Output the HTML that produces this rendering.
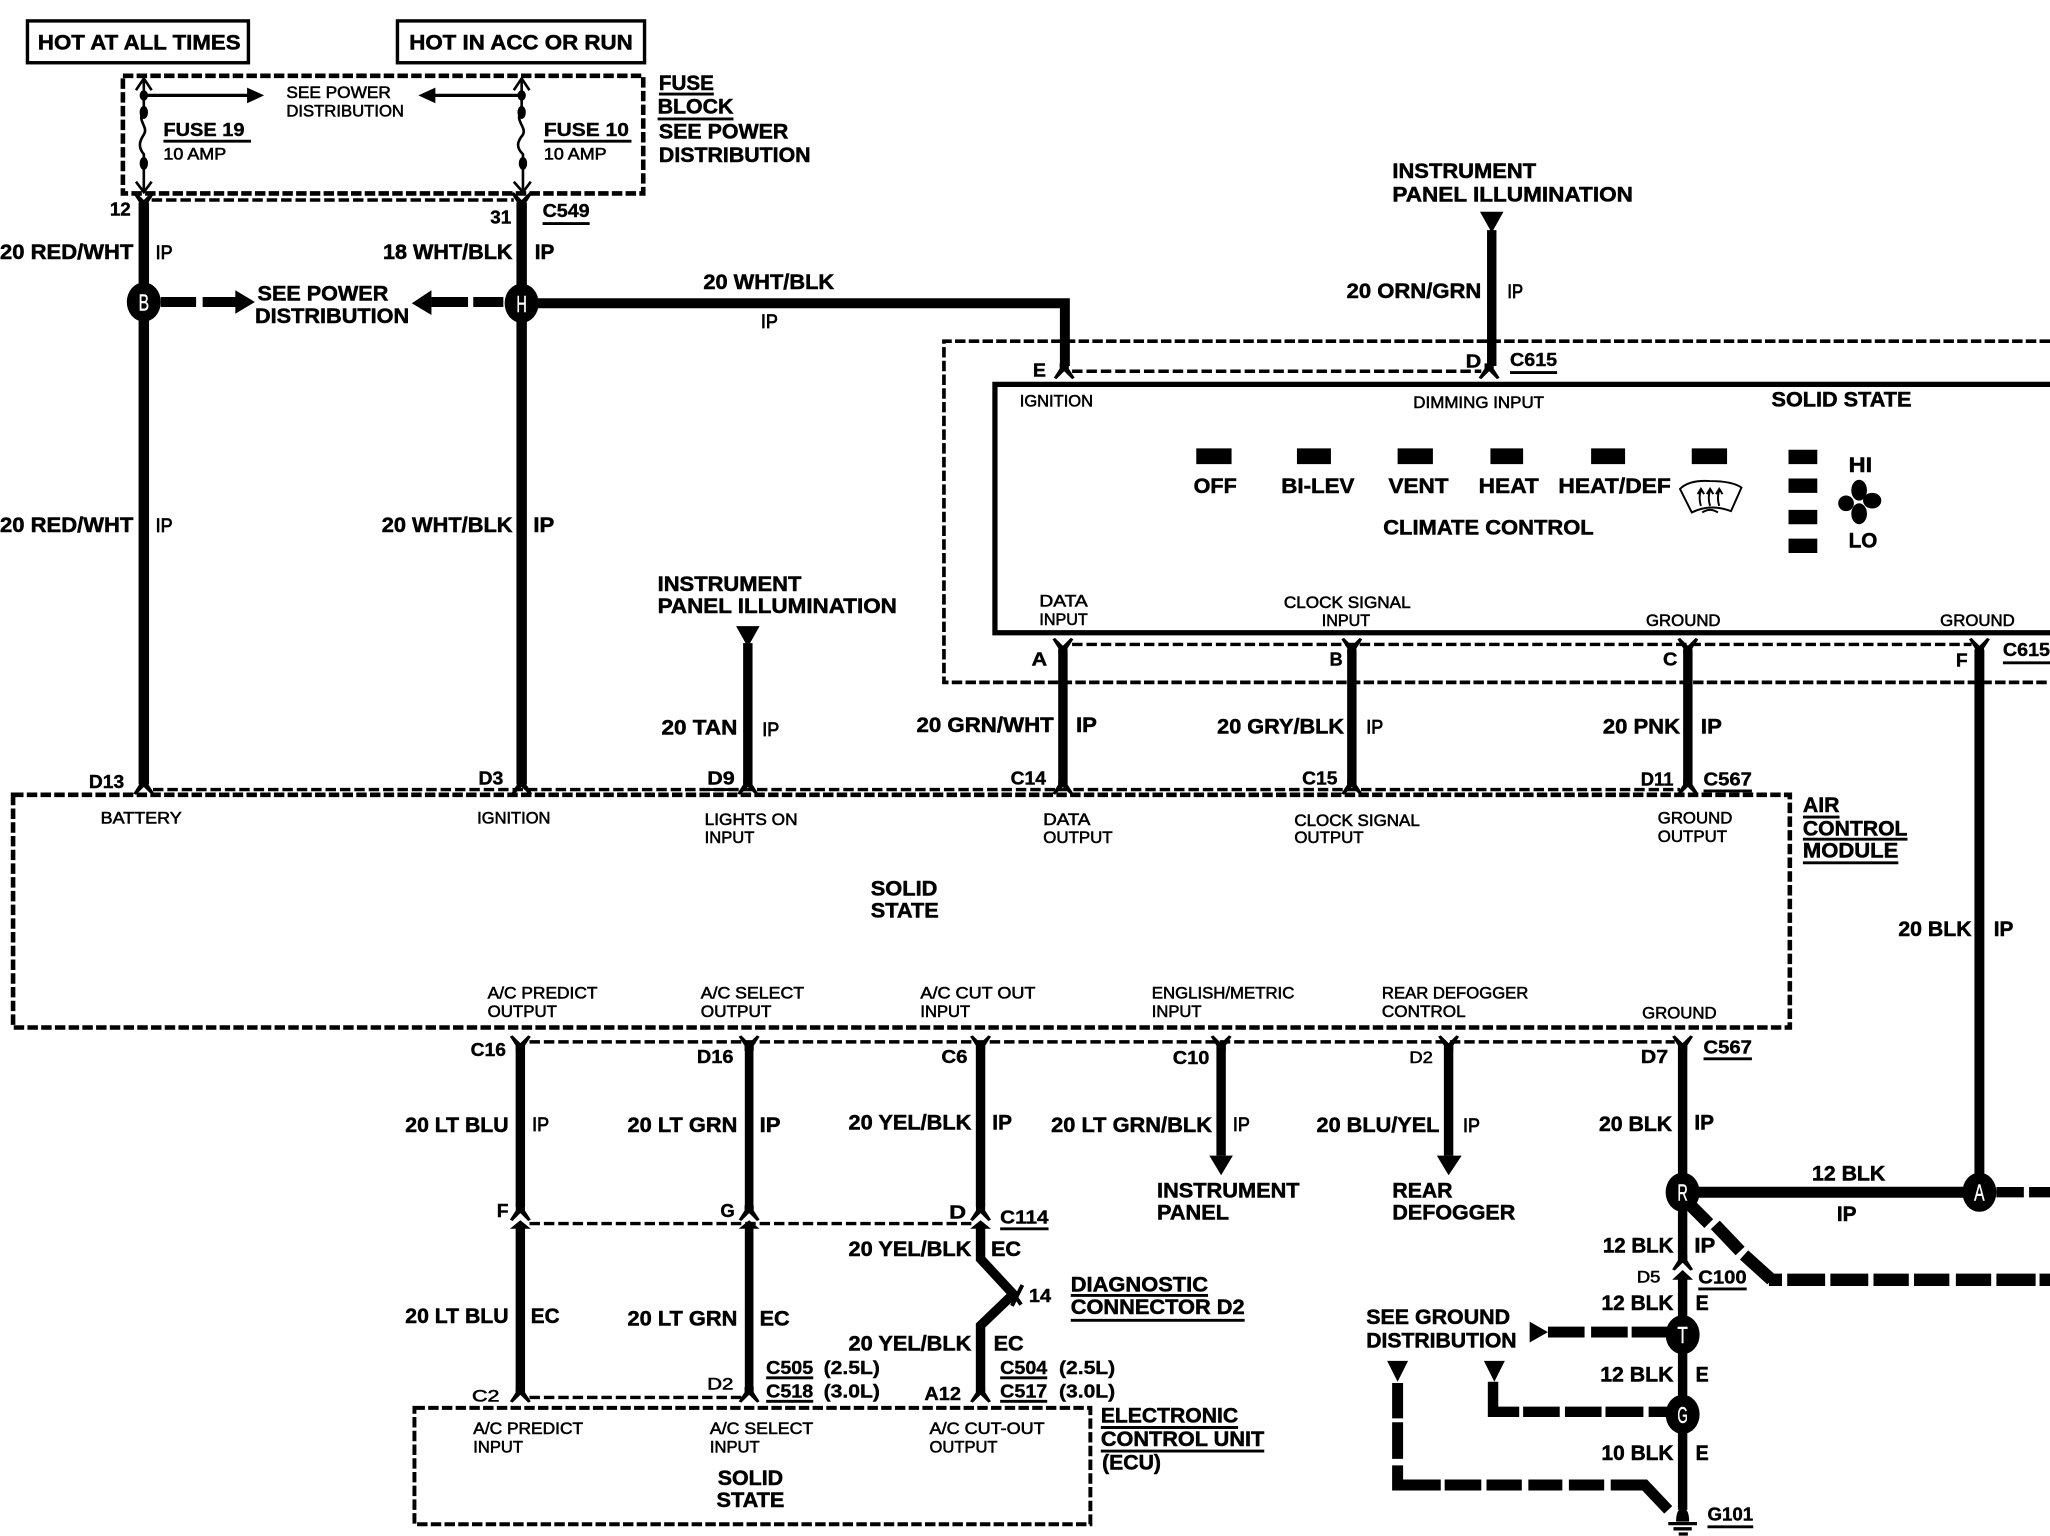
<!DOCTYPE html>
<html><head><meta charset="utf-8"><title>Climate Control Wiring Diagram</title>
<style>
html,body{margin:0;padding:0;background:#fff}
svg{display:block;width:2050px;height:1536px}
text{font-family:"Liberation Sans",sans-serif;fill:#000;stroke:#000}
.b{font-size:16px;font-weight:bold;stroke-width:.4px}
.m{font-size:14px;font-weight:bold;stroke-width:.3px}
.s{font-size:13px;font-weight:normal;stroke-width:.45px}
.i{font-size:15px;font-weight:normal;stroke-width:.6px}
.n{font-size:18px;font-weight:normal;fill:#fff;stroke:#fff;stroke-width:.3px}
.w{fill:none;stroke:#000;stroke-linecap:butt;stroke-linejoin:miter}
</style></head><body>
<svg xmlns="http://www.w3.org/2000/svg" viewBox="0 0 1568 1175" preserveAspectRatio="none">
<defs>
<path id="fy" d="M-8,-7 L-6,-8 L0,-2 L6,-8 L8,-7 L3.5,0 V4 H-3.5 V0 Z"/>
<path id="fa" d="M-8,7 L-6,8 L0,2 L6,8 L8,7 L3.5,0 V-4 H-3.5 V0 Z"/>
</defs>
<rect width="1568" height="1175" fill="#fff"/>

<!-- label boxes -->
<g class="w" stroke-width="2.6"><rect x="21" y="16" width="169" height="32"/><rect x="304" y="16" width="189" height="32"/></g>

<!-- dashed boxes -->
<g class="w" stroke-dasharray="8 2.5">
<rect x="94" y="58" width="398" height="90" stroke-width="3.5"/>
<path d="M1568 261H722V522H1568" stroke-width="2.8"/>
<rect x="10" y="608" width="1359" height="178" stroke-width="3.5"/>
<rect x="317" y="1077" width="517" height="89" stroke-width="3"/>
</g>
<g class="w" stroke-width="2.6" stroke-dasharray="8 3">
<path d="M116 153H393M820 284H1133M820 493H1508M117 604H1285M405 797H1281M405 936H744M405 1069H567"/>
</g>

<!-- solid state box -->
<path class="w" stroke-width="4" d="M1568 294H761V484H1568"/>

<!-- fuse internals -->
<g class="w" stroke-width="2">
<path d="M110 60V72V85C104 92 114 97 110 103C106 109 106 113 110 118V147"/>
<path d="M399 60V72V85C393 92 403 97 400 103C395 109 395 113 400 118V147"/>
<path d="M104 69L110 60L116 69M104 139L110 147L116 139M393 69L399 60L405 69M393 139L400 147L406 139"/>
</g>
<path class="w" stroke-width="2.5" d="M110 73H190M399 73H332"/>
<path d="M189 67L202 73L189 79ZM333 67L320 73L333 79Z"/>
<ellipse cx="110" cy="73" rx="3.2" ry="4"/><ellipse cx="110" cy="86" rx="3.2" ry="5"/><ellipse cx="110" cy="125" rx="3.2" ry="5"/>
<ellipse cx="399" cy="73" rx="3.2" ry="4"/><ellipse cx="399" cy="86" rx="3.2" ry="5"/><ellipse cx="400" cy="125" rx="3.2" ry="5"/>

<!-- main wires -->
<g class="w" stroke-width="8">
<path d="M110 155V600M399 155V600"/>
<path d="M399 232H814.5V280" stroke-width="7.6"/>
</g>
<g class="w" stroke-width="7.2">
<path d="M572 492V600M1287 800V966M1287 976V1155M1141 176V280M813 497V601M1034 497V601M1291 497V601"/>
<path d="M398 800V923M398 939V1065M750 800V923M750 939V963L775 990L750 1014V1065M934 800V884M1108 800V884"/>
<path d="M573 800V923M573 939V1065" stroke-width="6.6"/>
</g>
<path class="w" stroke-width="7.6" d="M1514 497V912"/>
<path class="w" stroke-width="8.4" d="M1287 912H1514"/>
<path class="w" stroke-width="3" d="M782 983L774 999M772 985L781 998"/>

<!-- arrowheads -->
<path d="M1132 162H1150L1141 178ZM563 479H581L572 495ZM925 884H943L934 899ZM1099 884H1118L1108 899Z"/>
<path d="M390 940L398 933.5L406 940ZM565 940L573 933.5L581 940ZM742 940L750 933.5L758 940ZM1279 979L1287 971.5L1295 979Z"/>

<!-- connector forks -->
<g>
<use href="#fy" x="110" y="155"/><use href="#fy" x="399" y="155"/>
<use href="#fa" x="814" y="282"/><use href="#fa" x="1139" y="282"/>
<use href="#fy" x="813" y="496"/><use href="#fy" x="1034" y="496"/><use href="#fy" x="1291" y="496"/><use href="#fy" x="1514" y="496"/>
<use href="#fa" x="110" y="600"/><use href="#fa" x="399" y="600"/><use href="#fa" x="572" y="600"/><use href="#fa" x="813" y="600"/><use href="#fa" x="1034" y="600"/><use href="#fa" x="1291" y="600"/>
<use href="#fy" x="398" y="800"/><use href="#fy" x="573" y="800"/><use href="#fy" x="750" y="800"/><use href="#fy" x="934" y="800"/><use href="#fy" x="1108" y="800"/><use href="#fy" x="1287" y="800"/>
<use href="#fa" x="398" y="926"/><use href="#fa" x="573" y="926"/><use href="#fa" x="750" y="926"/><use href="#fa" x="1287" y="964"/>
<use href="#fa" x="398" y="1065"/><use href="#fa" x="573" y="1065"/><use href="#fa" x="750" y="1065"/>
</g>

<!-- heavy dashed branches -->
<g class="w" stroke-width="8.4">
<path d="M123 231H150M155 231H182M330 231H358M362 231H385" stroke-width="7.6"/>
<path d="M1527 912H1548M1552 912H1568" stroke-width="8"/>
<path d="M1184 1019H1212M1217 1019H1245M1248 1019H1280"/>
<path d="M1142 1057V1080H1162M1165 1080H1193M1197 1080H1225M1228 1080H1257M1261 1080H1276" stroke-width="8"/>
<path d="M1069 1058V1085M1069 1088V1116M1069 1121V1136H1102M1105 1136H1133M1137 1136H1164M1169 1136H1195M1200 1136H1227M1232 1136H1258L1276 1155"/>
<path d="M1294 923L1307 936M1312 937L1331 957M1334 960L1355 979M1353 979H1363M1367 979H1396M1400 979H1429M1433 979H1460M1464 979H1491M1496 979H1523M1527 979H1557M1560 979H1568" stroke-width="9.5"/>
</g>
<path d="M180 222L195 231L180 240ZM330 222L315 232L330 241ZM1170 1011L1184 1019L1170 1027ZM1135 1041H1151L1143 1057ZM1061 1041H1077L1069 1057Z"/>

<!-- nodes -->
<ellipse cx="110" cy="231" rx="13" ry="15"/><ellipse cx="399" cy="232" rx="13" ry="15"/>
<ellipse cx="1287" cy="912" rx="13" ry="15"/><ellipse cx="1514" cy="912" rx="13" ry="15"/>
<ellipse cx="1287" cy="1021" rx="13" ry="15"/><ellipse cx="1287" cy="1082" rx="13" ry="15"/>
<text class="n" x="106" y="237.5" textLength="8" lengthAdjust="spacingAndGlyphs">B</text>
<text class="n" x="395" y="238.5" textLength="8" lengthAdjust="spacingAndGlyphs">H</text>
<text class="n" x="1283" y="918.5" textLength="8" lengthAdjust="spacingAndGlyphs">R</text>
<text class="n" x="1510" y="918.5" textLength="8" lengthAdjust="spacingAndGlyphs">A</text>
<text class="n" x="1283" y="1027.5" textLength="8" lengthAdjust="spacingAndGlyphs">T</text>
<text class="n" x="1283" y="1088.5" textLength="8" lengthAdjust="spacingAndGlyphs">G</text>

<!-- ground -->
<path d="M1282 1164Q1282 1154 1287 1154Q1292 1154 1292 1164Z"/>
<path class="w" stroke-width="2.5" d="M1276 1165.5H1298M1280 1169.5H1294M1284 1173.5H1291"/>

<!-- indicators -->
<path d="M915 343h27v12h-27zM992 343h26v12h-26zM1069 343h27v12h-27zM1140 343h25v12h-25zM1217 343h26v12h-26zM1294 343h27v12h-27zM1368 344h22v11h-22zM1368 366h22v11h-22zM1368 390h22v11h-22zM1368 412h22v11h-22z"/>
<!-- fan -->
<ellipse cx="1422" cy="375" rx="6" ry="8"/><ellipse cx="1422" cy="393" rx="6" ry="8"/><ellipse cx="1412" cy="385" rx="6" ry="6"/><ellipse cx="1432" cy="383" rx="7" ry="6"/>
<!-- defog -->
<g class="w" stroke-width="1.5">
<path d="M1285 374Q1292 367 1308 368Q1325 368 1332 373L1324 391Q1308 385 1294 392Z"/>
<path d="M1301 387Q1299 381 1301 375M1308 387Q1306 381 1308 375M1315 387Q1313 381 1315 375M1298.5 378L1301 374L1303.5 378M1305.5 378L1308 374L1310.5 378M1312.5 378L1315 374L1317.5 378M1302 392Q1308 388 1314 392"/>
</g>

<!-- underlines -->
<path class="w" stroke-width="2.2" d="M125 108H192M416 108H483M504 72H546M503 91H561M415 171H451M1155 285H1191M1532 507H1568M541 604H562M1303 605H1340M1379 625H1407M1379 642H1459M1379 660H1452M1303 810H1340M765 940H802M819 991H924M819 1010H952M586 1054H622M586 1072H622M765 1054H801M765 1072H801M842 1092H947M842 1110H967M1299 986H1336M1306 1168H1341"/>

<!-- text -->
<g>
<text class="b" x="29" y="38" textLength="155" lengthAdjust="spacingAndGlyphs">HOT AT ALL TIMES</text>
<text class="b" x="313" y="38" textLength="171" lengthAdjust="spacingAndGlyphs">HOT IN ACC OR RUN</text>
<text class="s" x="219" y="75" textLength="80" lengthAdjust="spacingAndGlyphs">SEE POWER</text>
<text class="s" x="219" y="89" textLength="90" lengthAdjust="spacingAndGlyphs">DISTRIBUTION</text>
<text class="m" x="125" y="104" textLength="62" lengthAdjust="spacingAndGlyphs">FUSE 19</text>
<text class="s" x="125" y="122" textLength="48" lengthAdjust="spacingAndGlyphs">10 AMP</text>
<text class="m" x="416" y="104" textLength="65" lengthAdjust="spacingAndGlyphs">FUSE 10</text>
<text class="s" x="416" y="122" textLength="48" lengthAdjust="spacingAndGlyphs">10 AMP</text>
<text class="b" x="504" y="69" textLength="42" lengthAdjust="spacingAndGlyphs">FUSE</text>
<text class="b" x="503" y="87" textLength="58" lengthAdjust="spacingAndGlyphs">BLOCK</text>
<text class="b" x="504" y="106" textLength="99" lengthAdjust="spacingAndGlyphs">SEE POWER</text>
<text class="b" x="504" y="124" textLength="116" lengthAdjust="spacingAndGlyphs">DISTRIBUTION</text>
<text class="m" x="84" y="165" textLength="16" lengthAdjust="spacingAndGlyphs">12</text>
<text class="m" x="375" y="171" textLength="16" lengthAdjust="spacingAndGlyphs">31</text>
<text class="m" x="415" y="166" textLength="36" lengthAdjust="spacingAndGlyphs">C549</text>
<text class="b" x="0" y="198" textLength="102" lengthAdjust="spacingAndGlyphs">20 RED/WHT</text>
<text class="i" x="119" y="198" textLength="13" lengthAdjust="spacingAndGlyphs">IP</text>
<text class="b" x="293" y="198" textLength="99" lengthAdjust="spacingAndGlyphs">18 WHT/BLK</text>
<text class="b" x="409" y="198" textLength="15" lengthAdjust="spacingAndGlyphs">IP</text>
<text class="b" x="197" y="230" textLength="100" lengthAdjust="spacingAndGlyphs">SEE POWER</text>
<text class="b" x="195" y="247" textLength="118" lengthAdjust="spacingAndGlyphs">DISTRIBUTION</text>
<text class="b" x="538" y="221" textLength="100" lengthAdjust="spacingAndGlyphs">20 WHT/BLK</text>
<text class="i" x="582" y="251" textLength="13" lengthAdjust="spacingAndGlyphs">IP</text>
<text class="b" x="1065" y="136" textLength="110" lengthAdjust="spacingAndGlyphs">INSTRUMENT</text>
<text class="b" x="1065" y="154" textLength="184" lengthAdjust="spacingAndGlyphs">PANEL ILLUMINATION</text>
<text class="b" x="1030" y="228" textLength="103" lengthAdjust="spacingAndGlyphs">20 ORN/GRN</text>
<text class="i" x="1153" y="228" textLength="12" lengthAdjust="spacingAndGlyphs">IP</text>
<text class="m" x="790" y="288" textLength="10" lengthAdjust="spacingAndGlyphs">E</text>
<text class="m" x="1121" y="281" textLength="12" lengthAdjust="spacingAndGlyphs">D</text>
<text class="m" x="1155" y="280" textLength="36" lengthAdjust="spacingAndGlyphs">C615</text>
<text class="s" x="780" y="311" textLength="56" lengthAdjust="spacingAndGlyphs">IGNITION</text>
<text class="s" x="1081" y="312" textLength="100" lengthAdjust="spacingAndGlyphs">DIMMING INPUT</text>
<text class="b" x="1355" y="311" textLength="107" lengthAdjust="spacingAndGlyphs">SOLID STATE</text>
<text class="b" x="913" y="377" textLength="33" lengthAdjust="spacingAndGlyphs">OFF</text>
<text class="b" x="980" y="377" textLength="56" lengthAdjust="spacingAndGlyphs">BI-LEV</text>
<text class="b" x="1062" y="377" textLength="46" lengthAdjust="spacingAndGlyphs">VENT</text>
<text class="b" x="1131" y="377" textLength="46" lengthAdjust="spacingAndGlyphs">HEAT</text>
<text class="b" x="1192" y="377" textLength="86" lengthAdjust="spacingAndGlyphs">HEAT/DEF</text>
<text class="b" x="1058" y="409" textLength="161" lengthAdjust="spacingAndGlyphs">CLIMATE CONTROL</text>
<text class="b" x="1414" y="361" textLength="18" lengthAdjust="spacingAndGlyphs">HI</text>
<text class="b" x="1414" y="419" textLength="22" lengthAdjust="spacingAndGlyphs">LO</text>
<text class="s" x="795" y="464" textLength="37" lengthAdjust="spacingAndGlyphs">DATA</text>
<text class="s" x="795" y="478" textLength="37" lengthAdjust="spacingAndGlyphs">INPUT</text>
<text class="s" x="982" y="465" textLength="97" lengthAdjust="spacingAndGlyphs">CLOCK SIGNAL</text>
<text class="s" x="1011" y="479" textLength="37" lengthAdjust="spacingAndGlyphs">INPUT</text>
<text class="s" x="1259" y="479" textLength="57" lengthAdjust="spacingAndGlyphs">GROUND</text>
<text class="s" x="1484" y="479" textLength="57" lengthAdjust="spacingAndGlyphs">GROUND</text>
<text class="m" x="789" y="509" textLength="12" lengthAdjust="spacingAndGlyphs">A</text>
<text class="m" x="1017" y="509" textLength="10" lengthAdjust="spacingAndGlyphs">B</text>
<text class="m" x="1272" y="509" textLength="11" lengthAdjust="spacingAndGlyphs">C</text>
<text class="m" x="1496" y="510" textLength="9" lengthAdjust="spacingAndGlyphs">F</text>
<text class="m" x="1532" y="502" textLength="36" lengthAdjust="spacingAndGlyphs">C615</text>
<text class="b" x="503" y="452" textLength="110" lengthAdjust="spacingAndGlyphs">INSTRUMENT</text>
<text class="b" x="503" y="469" textLength="183" lengthAdjust="spacingAndGlyphs">PANEL ILLUMINATION</text>
<text class="b" x="506" y="562" textLength="58" lengthAdjust="spacingAndGlyphs">20 TAN</text>
<text class="i" x="583" y="563" textLength="13" lengthAdjust="spacingAndGlyphs">IP</text>
<text class="b" x="701" y="560" textLength="105" lengthAdjust="spacingAndGlyphs">20 GRN/WHT</text>
<text class="b" x="823" y="560" textLength="16" lengthAdjust="spacingAndGlyphs">IP</text>
<text class="b" x="931" y="561" textLength="97" lengthAdjust="spacingAndGlyphs">20 GRY/BLK</text>
<text class="i" x="1045" y="561" textLength="13" lengthAdjust="spacingAndGlyphs">IP</text>
<text class="b" x="1226" y="561" textLength="59" lengthAdjust="spacingAndGlyphs">20 PNK</text>
<text class="b" x="1301" y="561" textLength="16" lengthAdjust="spacingAndGlyphs">IP</text>
<text class="b" x="0" y="407" textLength="102" lengthAdjust="spacingAndGlyphs">20 RED/WHT</text>
<text class="i" x="119" y="407" textLength="13" lengthAdjust="spacingAndGlyphs">IP</text>
<text class="b" x="292" y="407" textLength="100" lengthAdjust="spacingAndGlyphs">20 WHT/BLK</text>
<text class="b" x="408" y="407" textLength="16" lengthAdjust="spacingAndGlyphs">IP</text>
<text class="b" x="1452" y="716" textLength="56" lengthAdjust="spacingAndGlyphs">20 BLK</text>
<text class="b" x="1525" y="716" textLength="15" lengthAdjust="spacingAndGlyphs">IP</text>
<text class="m" x="68" y="603" textLength="27" lengthAdjust="spacingAndGlyphs">D13</text>
<text class="m" x="366" y="600" textLength="19" lengthAdjust="spacingAndGlyphs">D3</text>
<text class="m" x="541" y="600" textLength="21" lengthAdjust="spacingAndGlyphs">D9</text>
<text class="m" x="773" y="600" textLength="27" lengthAdjust="spacingAndGlyphs">C14</text>
<text class="m" x="996" y="600" textLength="27" lengthAdjust="spacingAndGlyphs">C15</text>
<text class="m" x="1255" y="601" textLength="25" lengthAdjust="spacingAndGlyphs">D11</text>
<text class="m" x="1303" y="601" textLength="37" lengthAdjust="spacingAndGlyphs">C567</text>
<text class="s" x="77" y="630" textLength="62" lengthAdjust="spacingAndGlyphs">BATTERY</text>
<text class="s" x="365" y="630" textLength="56" lengthAdjust="spacingAndGlyphs">IGNITION</text>
<text class="s" x="539" y="631" textLength="71" lengthAdjust="spacingAndGlyphs">LIGHTS ON</text>
<text class="s" x="539" y="645" textLength="38" lengthAdjust="spacingAndGlyphs">INPUT</text>
<text class="s" x="798" y="631" textLength="36" lengthAdjust="spacingAndGlyphs">DATA</text>
<text class="s" x="798" y="645" textLength="53" lengthAdjust="spacingAndGlyphs">OUTPUT</text>
<text class="s" x="990" y="632" textLength="96" lengthAdjust="spacingAndGlyphs">CLOCK SIGNAL</text>
<text class="s" x="990" y="645" textLength="53" lengthAdjust="spacingAndGlyphs">OUTPUT</text>
<text class="s" x="1268" y="630" textLength="57" lengthAdjust="spacingAndGlyphs">GROUND</text>
<text class="s" x="1268" y="644" textLength="53" lengthAdjust="spacingAndGlyphs">OUTPUT</text>
<text class="b" x="1379" y="621" textLength="28" lengthAdjust="spacingAndGlyphs">AIR</text>
<text class="b" x="1379" y="639" textLength="80" lengthAdjust="spacingAndGlyphs">CONTROL</text>
<text class="b" x="1379" y="656" textLength="73" lengthAdjust="spacingAndGlyphs">MODULE</text>
<text class="b" x="666" y="685" textLength="51" lengthAdjust="spacingAndGlyphs">SOLID</text>
<text class="b" x="666" y="702" textLength="52" lengthAdjust="spacingAndGlyphs">STATE</text>
<text class="s" x="373" y="764" textLength="84" lengthAdjust="spacingAndGlyphs">A/C PREDICT</text>
<text class="s" x="373" y="778" textLength="53" lengthAdjust="spacingAndGlyphs">OUTPUT</text>
<text class="s" x="536" y="764" textLength="79" lengthAdjust="spacingAndGlyphs">A/C SELECT</text>
<text class="s" x="536" y="778" textLength="54" lengthAdjust="spacingAndGlyphs">OUTPUT</text>
<text class="s" x="704" y="764" textLength="88" lengthAdjust="spacingAndGlyphs">A/C CUT OUT</text>
<text class="s" x="704" y="778" textLength="38" lengthAdjust="spacingAndGlyphs">INPUT</text>
<text class="s" x="881" y="764" textLength="109" lengthAdjust="spacingAndGlyphs">ENGLISH/METRIC</text>
<text class="s" x="881" y="778" textLength="38" lengthAdjust="spacingAndGlyphs">INPUT</text>
<text class="s" x="1057" y="764" textLength="112" lengthAdjust="spacingAndGlyphs">REAR DEFOGGER</text>
<text class="s" x="1057" y="778" textLength="64" lengthAdjust="spacingAndGlyphs">CONTROL</text>
<text class="s" x="1256" y="779" textLength="57" lengthAdjust="spacingAndGlyphs">GROUND</text>
<text class="m" x="360" y="808" textLength="27" lengthAdjust="spacingAndGlyphs">C16</text>
<text class="m" x="533" y="813" textLength="28" lengthAdjust="spacingAndGlyphs">D16</text>
<text class="m" x="720" y="813" textLength="20" lengthAdjust="spacingAndGlyphs">C6</text>
<text class="m" x="897" y="814" textLength="28" lengthAdjust="spacingAndGlyphs">C10</text>
<text class="s" x="1078" y="813" textLength="18" lengthAdjust="spacingAndGlyphs">D2</text>
<text class="m" x="1255" y="813" textLength="21" lengthAdjust="spacingAndGlyphs">D7</text>
<text class="m" x="1303" y="806" textLength="37" lengthAdjust="spacingAndGlyphs">C567</text>
<text class="b" x="310" y="866" textLength="79" lengthAdjust="spacingAndGlyphs">20 LT BLU</text>
<text class="i" x="407" y="865" textLength="13" lengthAdjust="spacingAndGlyphs">IP</text>
<text class="b" x="480" y="866" textLength="84" lengthAdjust="spacingAndGlyphs">20 LT GRN</text>
<text class="b" x="581" y="866" textLength="16" lengthAdjust="spacingAndGlyphs">IP</text>
<text class="b" x="649" y="864" textLength="94" lengthAdjust="spacingAndGlyphs">20 YEL/BLK</text>
<text class="b" x="759" y="864" textLength="15" lengthAdjust="spacingAndGlyphs">IP</text>
<text class="b" x="804" y="866" textLength="123" lengthAdjust="spacingAndGlyphs">20 LT GRN/BLK</text>
<text class="i" x="943" y="865" textLength="13" lengthAdjust="spacingAndGlyphs">IP</text>
<text class="b" x="1007" y="866" textLength="94" lengthAdjust="spacingAndGlyphs">20 BLU/YEL</text>
<text class="i" x="1119" y="866" textLength="13" lengthAdjust="spacingAndGlyphs">IP</text>
<text class="b" x="1223" y="865" textLength="56" lengthAdjust="spacingAndGlyphs">20 BLK</text>
<text class="b" x="1296" y="864" textLength="15" lengthAdjust="spacingAndGlyphs">IP</text>
<text class="b" x="885" y="916" textLength="109" lengthAdjust="spacingAndGlyphs">INSTRUMENT</text>
<text class="b" x="885" y="933" textLength="55" lengthAdjust="spacingAndGlyphs">PANEL</text>
<text class="b" x="1065" y="916" textLength="46" lengthAdjust="spacingAndGlyphs">REAR</text>
<text class="b" x="1065" y="933" textLength="94" lengthAdjust="spacingAndGlyphs">DEFOGGER</text>
<text class="m" x="380" y="931" textLength="9" lengthAdjust="spacingAndGlyphs">F</text>
<text class="m" x="551" y="931" textLength="11" lengthAdjust="spacingAndGlyphs">G</text>
<text class="m" x="726" y="932" textLength="13" lengthAdjust="spacingAndGlyphs">D</text>
<text class="m" x="765" y="936" textLength="37" lengthAdjust="spacingAndGlyphs">C114</text>
<text class="b" x="649" y="961" textLength="94" lengthAdjust="spacingAndGlyphs">20 YEL/BLK</text>
<text class="b" x="758" y="961" textLength="23" lengthAdjust="spacingAndGlyphs">EC</text>
<text class="b" x="310" y="1012" textLength="79" lengthAdjust="spacingAndGlyphs">20 LT BLU</text>
<text class="b" x="406" y="1012" textLength="22" lengthAdjust="spacingAndGlyphs">EC</text>
<text class="b" x="480" y="1014" textLength="84" lengthAdjust="spacingAndGlyphs">20 LT GRN</text>
<text class="b" x="581" y="1014" textLength="23" lengthAdjust="spacingAndGlyphs">EC</text>
<text class="m" x="787" y="996" textLength="17" lengthAdjust="spacingAndGlyphs">14</text>
<text class="b" x="819" y="988" textLength="105" lengthAdjust="spacingAndGlyphs">DIAGNOSTIC</text>
<text class="b" x="819" y="1005" textLength="133" lengthAdjust="spacingAndGlyphs">CONNECTOR D2</text>
<text class="b" x="649" y="1033" textLength="94" lengthAdjust="spacingAndGlyphs">20 YEL/BLK</text>
<text class="b" x="760" y="1033" textLength="23" lengthAdjust="spacingAndGlyphs">EC</text>
<text class="m" x="586" y="1051" textLength="36" lengthAdjust="spacingAndGlyphs">C505</text>
<text class="m" x="630" y="1051" textLength="43" lengthAdjust="spacingAndGlyphs">(2.5L)</text>
<text class="m" x="586" y="1069" textLength="36" lengthAdjust="spacingAndGlyphs">C518</text>
<text class="m" x="630" y="1069" textLength="43" lengthAdjust="spacingAndGlyphs">(3.0L)</text>
<text class="m" x="765" y="1051" textLength="36" lengthAdjust="spacingAndGlyphs">C504</text>
<text class="m" x="810" y="1051" textLength="43" lengthAdjust="spacingAndGlyphs">(2.5L)</text>
<text class="m" x="765" y="1069" textLength="36" lengthAdjust="spacingAndGlyphs">C517</text>
<text class="m" x="810" y="1069" textLength="43" lengthAdjust="spacingAndGlyphs">(3.0L)</text>
<text class="s" x="541" y="1063" textLength="20" lengthAdjust="spacingAndGlyphs">D2</text>
<text class="s" x="361" y="1072" textLength="21" lengthAdjust="spacingAndGlyphs">C2</text>
<text class="m" x="707" y="1071" textLength="28" lengthAdjust="spacingAndGlyphs">A12</text>
<text class="s" x="362" y="1097" textLength="84" lengthAdjust="spacingAndGlyphs">A/C PREDICT</text>
<text class="s" x="362" y="1111" textLength="38" lengthAdjust="spacingAndGlyphs">INPUT</text>
<text class="s" x="543" y="1097" textLength="79" lengthAdjust="spacingAndGlyphs">A/C SELECT</text>
<text class="s" x="543" y="1111" textLength="38" lengthAdjust="spacingAndGlyphs">INPUT</text>
<text class="s" x="711" y="1097" textLength="88" lengthAdjust="spacingAndGlyphs">A/C CUT-OUT</text>
<text class="s" x="711" y="1111" textLength="52" lengthAdjust="spacingAndGlyphs">OUTPUT</text>
<text class="b" x="549" y="1136" textLength="50" lengthAdjust="spacingAndGlyphs">SOLID</text>
<text class="b" x="548" y="1153" textLength="52" lengthAdjust="spacingAndGlyphs">STATE</text>
<text class="b" x="842" y="1088" textLength="105" lengthAdjust="spacingAndGlyphs">ELECTRONIC</text>
<text class="b" x="842" y="1106" textLength="125" lengthAdjust="spacingAndGlyphs">CONTROL UNIT</text>
<text class="b" x="843" y="1124" textLength="45" lengthAdjust="spacingAndGlyphs">(ECU)</text>
<text class="b" x="1386" y="903" textLength="56" lengthAdjust="spacingAndGlyphs">12 BLK</text>
<text class="b" x="1405" y="934" textLength="15" lengthAdjust="spacingAndGlyphs">IP</text>
<text class="b" x="1226" y="958" textLength="54" lengthAdjust="spacingAndGlyphs">12 BLK</text>
<text class="b" x="1296" y="958" textLength="16" lengthAdjust="spacingAndGlyphs">IP</text>
<text class="s" x="1252" y="981" textLength="18" lengthAdjust="spacingAndGlyphs">D5</text>
<text class="m" x="1299" y="982" textLength="37" lengthAdjust="spacingAndGlyphs">C100</text>
<text class="b" x="1225" y="1002" textLength="55" lengthAdjust="spacingAndGlyphs">12 BLK</text>
<text class="b" x="1297" y="1002" textLength="10" lengthAdjust="spacingAndGlyphs">E</text>
<text class="b" x="1045" y="1013" textLength="110" lengthAdjust="spacingAndGlyphs">SEE GROUND</text>
<text class="b" x="1045" y="1031" textLength="115" lengthAdjust="spacingAndGlyphs">DISTRIBUTION</text>
<text class="b" x="1224" y="1057" textLength="56" lengthAdjust="spacingAndGlyphs">12 BLK</text>
<text class="b" x="1297" y="1057" textLength="10" lengthAdjust="spacingAndGlyphs">E</text>
<text class="b" x="1225" y="1117" textLength="55" lengthAdjust="spacingAndGlyphs">10 BLK</text>
<text class="b" x="1297" y="1117" textLength="10" lengthAdjust="spacingAndGlyphs">E</text>
<text class="m" x="1306" y="1163" textLength="35" lengthAdjust="spacingAndGlyphs">G101</text>
</g>
</svg>
</body></html>
